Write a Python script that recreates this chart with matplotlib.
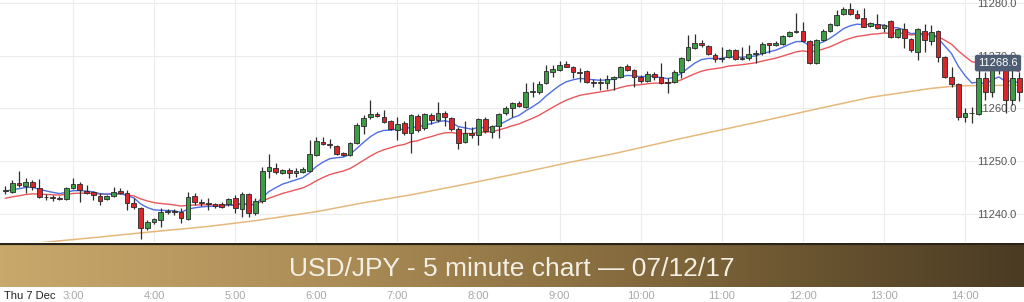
import numpy as np
import matplotlib
matplotlib.use("Agg")
import matplotlib.pyplot as plt
from matplotlib import font_manager, transforms
from matplotlib.colors import LinearSegmentedColormap

# ---------------- data ----------------
start_minute = 130          # first candle 02:10
bar_minutes = 5

opens = [11244.3, 11244.1, 11245.8, 11245.3, 11246.0, 11244.9, 11243.2, 11243.1, 11243.0, 11242.8,
         11244.9, 11245.7, 11244.4, 11244.1, 11243.4, 11242.8, 11243.4, 11244.3, 11243.9, 11242.0,
         11241.1, 11237.3, 11238.4, 11238.8, 11240.3, 11240.5, 11240.3, 11239.0, 11243.4, 11242.2,
         11242.0, 11241.8, 11241.9, 11241.9, 11243.0, 11240.9, 11243.8, 11240.2, 11242.4, 11248.1,
         11248.7, 11247.7, 11248.3, 11247.7, 11247.9, 11248.1, 11251.2, 11253.6, 11253.2, 11252.9,
         11251.5, 11251.2, 11253.4, 11256.7, 11258.4, 11258.9, 11258.4, 11257.6, 11255.9, 11257.2,
         11255.3, 11258.6, 11256.3, 11258.8, 11257.8, 11259.1, 11258.2, 11256.1, 11253.6, 11255.3,
         11255.0, 11258.0, 11255.5, 11256.7, 11259.1, 11260.1, 11261.0, 11260.3, 11263.1, 11263.1,
         11264.8, 11266.9, 11267.3, 11268.4, 11267.9, 11266.9, 11267.1, 11265.0, 11264.9, 11264.8,
         11265.6, 11266.0, 11268.0, 11267.3, 11266.0, 11265.2, 11266.5, 11266.0, 11264.8, 11265.0,
         11266.9, 11269.2, 11271.5, 11272.4, 11271.8, 11270.1, 11269.4, 11269.8, 11271.1, 11269.4,
         11269.6, 11270.3, 11270.5, 11272.4, 11272.0, 11272.2, 11273.7, 11274.5, 11274.7, 11272.8,
         11268.6, 11273.0, 11274.7, 11275.9, 11277.9, 11278.9, 11277.9, 11277.2, 11275.6, 11276.0,
         11275.3, 11276.6, 11273.5, 11275.1, 11273.2, 11270.7, 11274.7, 11272.8, 11274.7, 11269.8,
         11266.0, 11264.6, 11258.4, 11259.1, 11258.9, 11265.8, 11263.1, 11268.6, 11268.6, 11261.6,
         11265.8]
highs = [11245.3, 11246.4, 11248.1, 11246.8, 11246.4, 11246.6, 11243.8, 11243.6, 11243.4, 11245.1,
         11246.8, 11246.0, 11245.5, 11244.3, 11243.9, 11243.6, 11245.1, 11244.9, 11244.5, 11243.0,
         11241.3, 11238.8, 11239.2, 11241.1, 11240.9, 11240.9, 11241.1, 11244.1, 11243.9, 11242.8,
         11243.0, 11242.0, 11242.2, 11243.0, 11243.6, 11244.1, 11243.9, 11243.0, 11248.9, 11251.4,
         11249.6, 11248.5, 11248.7, 11248.7, 11248.9, 11254.0, 11254.6, 11254.6, 11254.2, 11253.1,
         11251.7, 11253.6, 11257.2, 11258.8, 11261.6, 11259.3, 11259.7, 11257.8, 11258.4, 11257.6,
         11258.9, 11258.9, 11259.1, 11259.1, 11261.2, 11259.5, 11258.4, 11256.5, 11257.6, 11256.5,
         11258.2, 11258.4, 11256.9, 11259.1, 11260.5, 11261.2, 11261.4, 11264.8, 11265.0, 11265.2,
         11268.2, 11268.2, 11269.0, 11269.0, 11268.1, 11267.7, 11267.3, 11265.6, 11265.8, 11266.3,
         11266.2, 11268.0, 11268.4, 11267.4, 11266.3, 11267.1, 11266.9, 11268.6, 11265.8, 11267.3,
         11269.8, 11273.9, 11274.1, 11273.0, 11272.0, 11270.5, 11271.6, 11271.3, 11271.3, 11271.6,
         11272.0, 11271.0, 11272.6, 11272.5, 11272.7, 11273.9, 11274.7, 11278.1, 11276.4, 11273.0,
         11273.2, 11275.1, 11276.2, 11278.7, 11279.3, 11280.0, 11278.7, 11279.0, 11276.4, 11277.9,
         11276.0, 11276.8, 11275.3, 11276.2, 11273.4, 11275.3, 11276.0, 11275.8, 11274.9, 11269.9,
         11267.9, 11264.8, 11260.1, 11260.3, 11267.3, 11266.9, 11268.8, 11270.0, 11269.0, 11267.3,
         11266.9]
lows = [11243.8, 11243.9, 11245.1, 11243.9, 11244.5, 11243.0, 11242.6, 11242.4, 11242.6, 11242.6,
        11244.8, 11242.2, 11243.8, 11242.6, 11241.7, 11242.6, 11243.2, 11243.8, 11240.7, 11240.9,
        11235.2, 11236.9, 11238.1, 11237.5, 11239.9, 11239.8, 11238.3, 11238.8, 11241.7, 11241.5,
        11240.7, 11241.1, 11241.1, 11241.5, 11240.2, 11239.4, 11239.4, 11239.8, 11242.0, 11246.8,
        11247.6, 11247.5, 11246.8, 11247.0, 11247.7, 11247.9, 11251.0, 11253.0, 11252.5, 11251.2,
        11251.0, 11251.0, 11253.2, 11255.2, 11258.0, 11258.4, 11257.2, 11255.9, 11254.0, 11254.9,
        11251.5, 11255.5, 11255.9, 11257.0, 11257.4, 11256.7, 11255.7, 11252.3, 11253.4, 11254.4,
        11253.1, 11255.3, 11254.4, 11254.4, 11258.8, 11258.4, 11260.3, 11260.1, 11262.2, 11262.7,
        11264.6, 11266.0, 11267.1, 11267.8, 11265.8, 11265.0, 11264.8, 11264.1, 11263.5, 11263.7,
        11263.5, 11265.8, 11267.1, 11264.1, 11264.8, 11265.0, 11265.4, 11264.6, 11262.9, 11264.8,
        11265.8, 11269.0, 11271.3, 11271.6, 11270.1, 11268.8, 11268.8, 11269.6, 11269.2, 11269.2,
        11269.2, 11268.6, 11270.1, 11270.5, 11271.8, 11272.0, 11273.5, 11274.4, 11272.6, 11268.4,
        11268.4, 11272.8, 11274.5, 11275.7, 11277.7, 11277.7, 11277.0, 11275.4, 11275.4, 11275.1,
        11274.5, 11273.3, 11273.3, 11271.5, 11270.7, 11269.2, 11270.7, 11272.0, 11268.8, 11265.8,
        11264.1, 11257.8, 11257.4, 11257.2, 11258.8, 11261.6, 11262.2, 11266.5, 11259.1, 11260.7,
        11261.4]
closes = [11244.5, 11245.8, 11245.5, 11246.0, 11245.1, 11243.2, 11243.1, 11243.0, 11242.9, 11244.9,
          11245.7, 11244.5, 11243.9, 11243.6, 11242.4, 11243.4, 11244.1, 11243.9, 11242.0, 11241.3,
          11237.3, 11238.4, 11239.0, 11240.3, 11240.5, 11240.3, 11239.2, 11243.2, 11242.2, 11242.0,
          11241.8, 11241.5, 11241.3, 11242.8, 11241.1, 11243.8, 11240.2, 11242.4, 11248.1, 11248.9,
          11247.9, 11248.3, 11247.7, 11248.1, 11248.5, 11251.4, 11253.8, 11253.2, 11253.0, 11251.4,
          11251.2, 11253.4, 11256.9, 11258.2, 11258.9, 11258.6, 11257.4, 11256.1, 11257.0, 11255.3,
          11258.8, 11255.9, 11258.9, 11257.8, 11259.1, 11258.4, 11256.1, 11253.4, 11255.3, 11255.0,
          11258.0, 11255.7, 11256.7, 11258.9, 11260.1, 11261.0, 11260.5, 11263.1, 11263.3, 11264.6,
          11267.1, 11267.5, 11268.2, 11267.9, 11266.9, 11266.8, 11265.0, 11264.9, 11265.0, 11265.6,
          11266.0, 11267.9, 11267.3, 11266.0, 11265.2, 11266.5, 11266.0, 11264.8, 11265.0, 11266.9,
          11269.6, 11271.6, 11272.4, 11272.0, 11270.3, 11269.4, 11269.6, 11271.1, 11269.4, 11269.6,
          11270.3, 11270.5, 11272.2, 11272.0, 11272.4, 11273.7, 11274.5, 11274.7, 11272.8, 11268.6,
          11273.0, 11274.7, 11276.0, 11277.7, 11278.9, 11277.9, 11277.2, 11275.5, 11276.2, 11275.3,
          11275.8, 11273.5, 11275.1, 11273.4, 11271.1, 11275.1, 11273.0, 11274.5, 11269.8, 11266.0,
          11264.6, 11258.4, 11259.1, 11259.2, 11265.8, 11263.1, 11268.6, 11268.2, 11261.6, 11265.8,
          11263.1]

fast_period = 9
slow_period = 21
fast_seed = 11244.2
slow_seed = 11242.8

long_ma_slots = [0, 5, 14, 21, 30, 37, 46, 53, 60, 68, 76, 84, 90, 100, 112, 119, 128, 137, 141, 150]
long_ma_values = [11233.8, 11234.5, 11235.6, 11236.5, 11237.6, 11238.7, 11240.4, 11242.1, 11243.6,
                  11245.6, 11247.7, 11249.9, 11251.4, 11254.3, 11257.6, 11259.6, 11262.1, 11263.8,
                  11264.3, 11264.4]

hour_ticks = [3, 4, 5, 6, 7, 8, 9, 10, 11, 12, 13, 14]
hour_labels = ["3:00", "4:00", "5:00", "6:00", "7:00", "8:00", "9:00", "10:00",
               "11:00", "12:00", "13:00", "14:00"]
price_ticks = [11240.0, 11250.0, 11260.0, 11270.0, 11280.0]
last_price = 11268.6
date_label = "Thu 7 Dec"
title = "USD/JPY - 5 minute chart \u2014 07/12/17"

# ---------------- helpers ----------------
def ema(values, period, seed):
    a = 2.0 / (period + 1)
    out = []
    prev = seed
    for v in values:
        prev = prev + a * (v - prev)
        out.append(prev)
    return out

names = {f.name for f in font_manager.fontManager.ttflist}
base_font = "Liberation Sans" if "Liberation Sans" in names else "DejaVu Sans"
plt.rcParams["font.family"] = [base_font, "DejaVu Sans"]

W, H = 1024, 302
fig = plt.figure(figsize=(W / 100, H / 100), dpi=100)
fig.patch.set_facecolor("white")

# main chart axes: pixel rows 0..242
ax = fig.add_axes([0, (H - 242) / H, 1, 242 / H])
ax.set_facecolor("white")

n = len(closes)
t = np.array([start_minute + bar_minutes * i for i in range(n)], dtype=float)
o = np.array(opens); c = np.array(closes); h = np.array(highs); l = np.array(lows)
up = c >= o

x0_min = 126.0
px_per_min = 81.1 / 60.0
ax.set_xlim(x0_min, x0_min + W / px_per_min)
ax.set_ylim(11234.65, 11280.57)

ax.set_xticks([hh * 60 for hh in hour_ticks])
ax.set_xticklabels(hour_labels)
ax.set_yticks(price_ticks)
ax.set_yticklabels([f"{p:.1f}" for p in price_ticks])
ax.grid(True, color="#ececec", lw=0.8, zorder=0)
ax.set_axisbelow(True)
for s in ax.spines.values():
    s.set_visible(False)

ax.yaxis.tick_right()
ax.tick_params(axis="y", length=0, pad=-33.5, labelsize=8, labelcolor="#555555")
ax.tick_params(axis="x", length=0, pad=35, labelsize=8, labelcolor="#a8a8a8")

# long MA
ax.plot([start_minute + bar_minutes * s for s in long_ma_slots], long_ma_values,
        color="#e6b87c", lw=1.1, zorder=2)
# EMAs
ax.plot(t, ema(closes, slow_period, slow_seed), color="#e8585c", lw=1.0, zorder=2)
ax.plot(t, ema(closes, fast_period, fast_seed), color="#4f6fe3", lw=1.0, zorder=3)

# candles
ax.vlines(t, l, h, color="#2e2e2e", lw=0.9, zorder=4)
body_bottom = np.minimum(o, c)
body_h = np.maximum(np.abs(c - o), 0.12)
colors = np.where(up, "#3f9c46", "#d8272b")
ax.bar(t, body_h, bottom=body_bottom, width=3.5, color=colors,
       edgecolor="#2a2a2a", linewidth=0.6, zorder=5)

# last price tag
trans = transforms.blended_transform_factory(ax.transAxes, ax.transData)
ax.text(998 / W, last_price, f"{last_price:.1f}", transform=trans, ha="center", va="center",
        fontsize=8, color="white", zorder=10,
        bbox=dict(boxstyle="round,pad=0.3,rounding_size=0.2", fc="#4e5d73", ec="none"))

# title band: pixel rows 243..287
band = fig.add_axes([0, (H - 287) / H, 1, 44 / H])
cmap = LinearSegmentedColormap.from_list("band", ["#c9a86c", "#ab8c56", "#7d6439", "#4a3b23"])
grad = np.linspace(0, 1, 512)[None, :]
band.imshow(grad, aspect="auto", cmap=cmap, extent=[0, 1, 0, 1])
band.set_xlim(0, 1); band.set_ylim(0, 1)
band.axis("off")
band.axhline(0.985, color="#2a2418", lw=1.6)
band.text(0.5, 0.42, title, ha="center", va="center", fontsize=19, color="#f4efe4")

fig.text(4 / W, (H - 296) / H, date_label, ha="left", va="center", fontsize=8, color="#222222")

fig.savefig("out.png", dpi=100)
